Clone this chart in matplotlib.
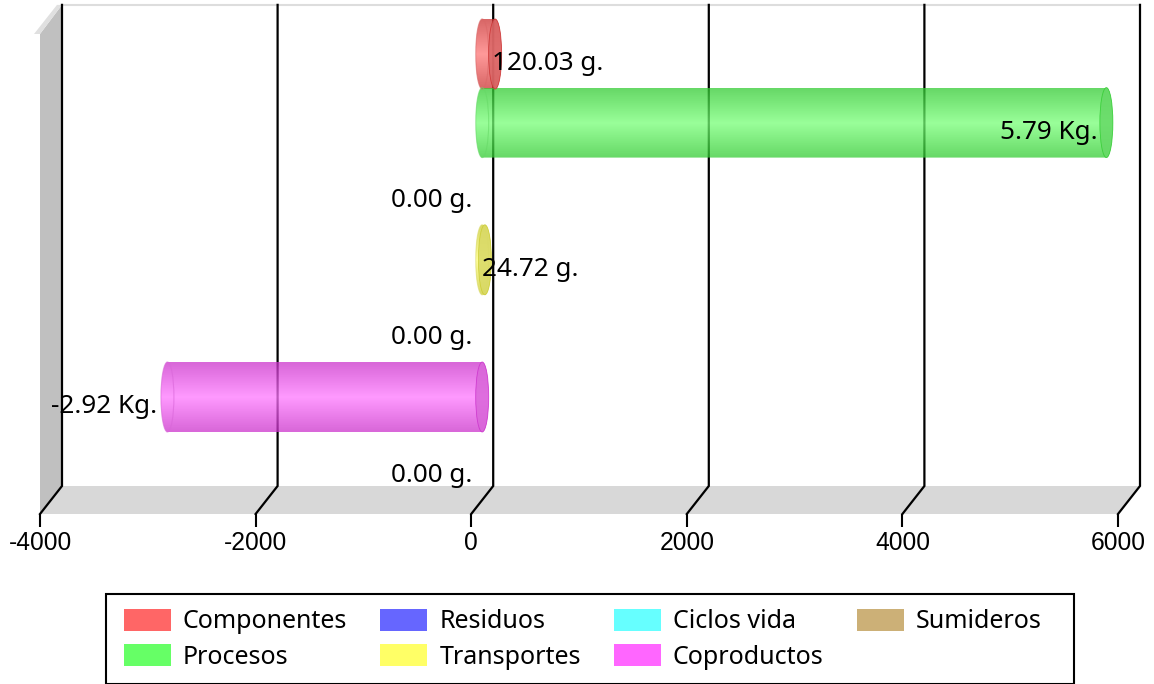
"""Cylinder bar chart with a fake 3D frame, horizontal."""
import numpy as np
import matplotlib
matplotlib.use("Agg")
import matplotlib.pyplot as plt
from matplotlib.patches import Ellipse, Patch, PathPatch, Polygon, Rectangle
from matplotlib.path import Path
from matplotlib.colors import to_rgb
from matplotlib.ticker import FuncFormatter

W, H = 1154, 684
categories = ["Componentes", "Procesos", "Residuos", "Transportes",
              "Ciclos vida", "Coproductos", "Sumideros"]
values = [120.03, 5790, 0, 24.72, 0, -2920, 0]
value_labels = ["120.03 g.", "5.79 Kg.", "0.00 g.", "24.72 g.", "0.00 g.", "-2.92 Kg.", "0.00 g."]
colors = ["#ff6666", "#66ff66", "#6666ff", "#ffff66", "#66ffff", "#ff66ff", "#ccb077"]
x_ticks = [-4000, -2000, 0, 2000, 4000, 6000]

fig = plt.figure(figsize=(W / 100, H / 100), dpi=100)
# axes = front plane of the 3D box, pixel box 40..1118 / 34..514
ax = fig.add_axes([40 / W, 1 - 514 / H, 1078 / W, 480 / H])
ax.patch.set_alpha(0)
for s in ax.spines.values():
    s.set_visible(False)

px_x = 10000 / 1078          # data units per pixel
px_y = 1 / 68.6
DX, DY = 22 * px_x, 28 * px_y  # depth of the box
y_bottom = (514 - 54) * px_y
y_top = (34 - 54) * px_y
xmin, xmax = x_ticks[0], x_ticks[-1]

# walls
ax.add_patch(Polygon([(xmin, y_bottom), (xmin, y_top), (xmin + DX, y_top - 1.04 * DY), (xmin + DX, y_bottom - DY)],
                     fc="#c0c0c0", ec="none", clip_on=False, zorder=1))
ax.add_patch(Polygon([(xmin - 6 * px_x, y_top), (xmin, y_top), (xmin + DX, y_top - 1.04 * DY), (xmin + DX - 5 * px_x, y_top - 1.04 * DY)],
                     fc="#e0e0e0", ec="none", clip_on=False, zorder=1))
ax.add_patch(Polygon([(xmin, y_bottom), (xmax, y_bottom), (xmax + DX, y_bottom - DY), (xmin + DX, y_bottom - DY)],
                     fc="#d8d8d8", ec="none", clip_on=False, zorder=1))
ax.plot([xmin + DX, xmax + DX], [y_top - 1.04 * DY] * 2, color="#dddddd", lw=1.5, clip_on=False, zorder=1)

# grid lines run along the back and fold down the floor
for t in x_ticks:
    ax.plot([t, t + DX, t + DX], [y_bottom, y_bottom - DY, y_top - 1.04 * DY],
            color="black", lw=1.6, clip_on=False, zorder=2, solid_joinstyle="miter")

ALPHA = 0.75


def draw_cylinder(i, val, col):
    base = DX / 2
    x0, x1 = sorted([base, base + val])
    half_h = 0.51
    half_w = 6.5 * px_x
    t = np.linspace(-np.pi / 2, np.pi / 2, 40)
    xs = np.r_[x0 - half_w * np.cos(t), x1 + half_w * np.cos(t[::-1])]
    ys = np.r_[i + half_h * np.sin(t), i + half_h * np.sin(t[::-1])]
    outline = Path(np.c_[xs, ys], closed=False)

    # vertical gradient, dark at the rim and light in the middle
    c = np.array(to_rgb(col))
    edge = np.clip(c - 0.2, 0, 1)
    mid = np.clip(c + 0.07, 0, 1)
    shown = edge * ALPHA + (1 - ALPHA)
    u = np.abs(np.linspace(-1, 1, 71))[:, None]
    rgba = np.ones((71, 1, 4))
    rgba[:, 0, :3] = mid * (1 - u) + edge * u
    rgba[:, 0, 3] = ALPHA
    im = ax.imshow(rgba, extent=(x0 - half_w, x1 + half_w, i + half_h, i - half_h),
                   aspect="auto", zorder=3, interpolation="bilinear")
    clip = PathPatch(outline, transform=ax.transData, fc="none", ec="none")
    ax.add_patch(clip)
    im.set_clip_box(fig.bbox)
    im.set_clip_path(clip)
    # near end is see through, far end is a solid cap
    ax.add_patch(Ellipse((x0, i), 2 * half_w, 2 * half_h, fc="none", ec=shown, lw=0.8, alpha=0.6, clip_on=False, zorder=4))
    ax.add_patch(Ellipse((x1, i), 2 * half_w, 2 * half_h, fc=shown, ec=edge, lw=0.6, alpha=0.85, clip_on=False, zorder=4))


for i, (val, col) in enumerate(zip(values, colors)):
    if val != 0:
        draw_cylinder(i, val, col)

# value labels
for i, (val, lab) in enumerate(zip(values, value_labels)):
    end = DX / 2 + val
    if val > 1000:
        xt, ha = end - 9 * px_x, "right"
    elif val > 0:
        xt, ha = end - 3 * px_x, "left"
    else:
        xt, ha = end - 10 * px_x, "right"
    ax.text(xt, i + 9.5 * px_y, lab, ha=ha, va="center", fontsize=18.8, family="Noto Sans",
            color="black", zorder=6, clip_on=False)

ax.set_xlim(xmin, xmax)
ax.set_ylim(y_bottom, y_top)
ax.set_xticks(x_ticks)
ax.set_yticks([])
ax.tick_params(axis="x", length=9.4, width=1.5, pad=3, labelsize=17.7, labelfontfamily="Liberation Sans")
ax.xaxis.set_major_formatter(FuncFormatter(lambda v, _: f"{v:.0f}"))

# legend frame is wider on the right than the entries need, so draw it apart
fig.add_artist(Rectangle((106 / W, 0.5 / H), 968 / W, 89.5 / H, transform=fig.transFigure,
                         fc="white", ec="black", lw=1.5, zorder=5))
handles = [Patch(fc=c, ec="none", label=n) for c, n in zip(colors, categories)]
FS = 18
fpx = FS * 100 / 72
leg = fig.legend(handles=handles, ncols=4, loc="upper left", bbox_to_anchor=(124 / W, 1 - 609 / H),
                 frameon=False, borderaxespad=0, borderpad=0, prop={"family": "Noto Sans", "size": FS},
                 handlelength=47 / fpx, handleheight=24 / fpx, handletextpad=12 / fpx,
                 columnspacing=33 / fpx, labelspacing=10 / fpx)
leg.set_zorder(6)

fig.savefig("out.png", dpi=100, facecolor="white")
